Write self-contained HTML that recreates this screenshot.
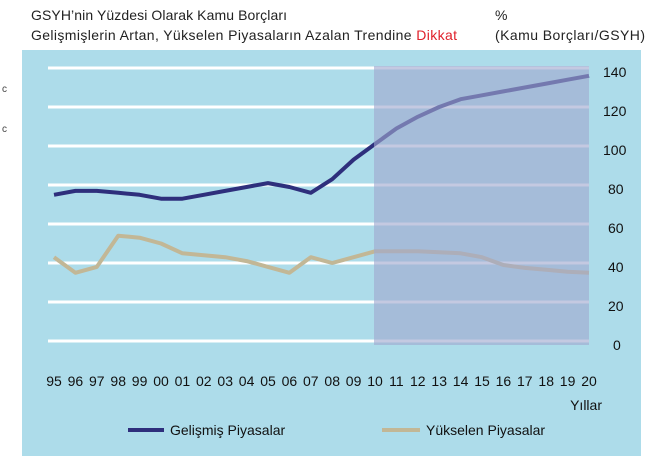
<!DOCTYPE html>
<html><head><meta charset="utf-8"><style>
body{margin:0;background:#fff;width:655px;height:468px;overflow:hidden}
svg{font-family:"Liberation Sans",sans-serif}
</style></head><body>
<svg width="655" height="468" viewBox="0 0 655 468">
<text x="31" y="20" font-size="14" fill="#222" textLength="256">GSYH’nin Yüzdesi Olarak Kamu Borçları</text>
<text x="31" y="40" font-size="14" fill="#222" textLength="426">Gelişmişlerin Artan, Yükselen Piyasaların Azalan Trendine <tspan fill="#e0202a">Dikkat</tspan></text>
<text x="495" y="20" font-size="14" fill="#222">%</text>
<text x="495" y="40" font-size="14" fill="#222" textLength="150">(Kamu Borçları/GSYH)</text>
<text x="2" y="92" font-size="10" fill="#444">c</text>
<text x="2" y="132" font-size="10" fill="#444">c</text>
<rect x="22" y="50" width="619" height="406" fill="#addcea"/>
<g stroke="#fff" stroke-width="3">
<line x1="48" y1="68" x2="589" y2="68"/><line x1="48" y1="107" x2="589" y2="107"/>
<line x1="48" y1="146" x2="589" y2="146"/><line x1="48" y1="185" x2="589" y2="185"/>
<line x1="48" y1="224" x2="589" y2="224"/><line x1="48" y1="263" x2="589" y2="263"/>
<line x1="48" y1="302" x2="589" y2="302"/><line x1="48" y1="341" x2="589" y2="341"/>
</g>
<polyline fill="none" stroke="#2e2f7c" stroke-width="4" stroke-linejoin="round" points="54,194.8 75.4,190.9 96.8,190.9 118.2,192.8 139.6,194.8 161,198.7 182.4,198.7 203.8,194.8 225.2,190.9 246.6,187 268,183.1 289.4,187 310.8,192.8 332.2,179.2 353.6,159.6 375,144 396.4,128.5 417.8,116.8 439.2,107 460.6,99.2 482,95.3 503.4,91.4 524.8,87.5 546.2,83.6 567.6,79.7 589,75.8"/>
<polyline fill="none" stroke="#c2b796" stroke-width="4" stroke-linejoin="round" points="54,257.2 75.4,272.8 96.8,266.9 118.2,235.7 139.6,237.7 161,243.5 182.4,253.3 203.8,255.2 225.2,257.2 246.6,261.1 268,266.9 289.4,272.8 310.8,257.2 332.2,263 353.6,257.2 375,251.3 396.4,251.3 417.8,251.3 439.2,252.3 460.6,253.3 482,257.2 503.4,265 524.8,267.9 546.2,269.8 567.6,271.8 589,272.8"/>
<rect x="374" y="66" width="215" height="279" fill="#a0a8cf" fill-opacity="0.62"/>
<g font-size="14" fill="#111">
<text x="603" y="77">140</text><text x="603" y="116">120</text><text x="603" y="155">100</text>
<text x="608" y="194">80</text><text x="608" y="233">60</text><text x="608" y="272">40</text>
<text x="608" y="311">20</text><text x="613" y="350">0</text>
</g>
<g font-size="14" fill="#111" text-anchor="middle">
<text x="54" y="386">95</text><text x="75.4" y="386">96</text><text x="96.8" y="386">97</text><text x="118.2" y="386">98</text><text x="139.6" y="386">99</text><text x="161" y="386">00</text><text x="182.4" y="386">01</text><text x="203.8" y="386">02</text><text x="225.2" y="386">03</text><text x="246.6" y="386">04</text><text x="268" y="386">05</text><text x="289.4" y="386">06</text><text x="310.8" y="386">07</text><text x="332.2" y="386">08</text><text x="353.6" y="386">09</text><text x="375" y="386">10</text><text x="396.4" y="386">11</text><text x="417.8" y="386">12</text><text x="439.2" y="386">13</text><text x="460.6" y="386">14</text><text x="482" y="386">15</text><text x="503.4" y="386">16</text><text x="524.8" y="386">17</text><text x="546.2" y="386">18</text><text x="567.6" y="386">19</text><text x="589" y="386">20</text>
</g>
<text x="602" y="410" font-size="14" fill="#111" text-anchor="end">Yıllar</text>
<line x1="128" y1="430" x2="164" y2="430" stroke="#2e2f7c" stroke-width="4"/>
<text x="170" y="435" font-size="14" fill="#111">Gelişmiş Piyasalar</text>
<line x1="382" y1="430" x2="420" y2="430" stroke="#c2b796" stroke-width="4"/>
<text x="426" y="435" font-size="14" fill="#111">Yükselen Piyasalar</text>
</svg>
</body></html>
